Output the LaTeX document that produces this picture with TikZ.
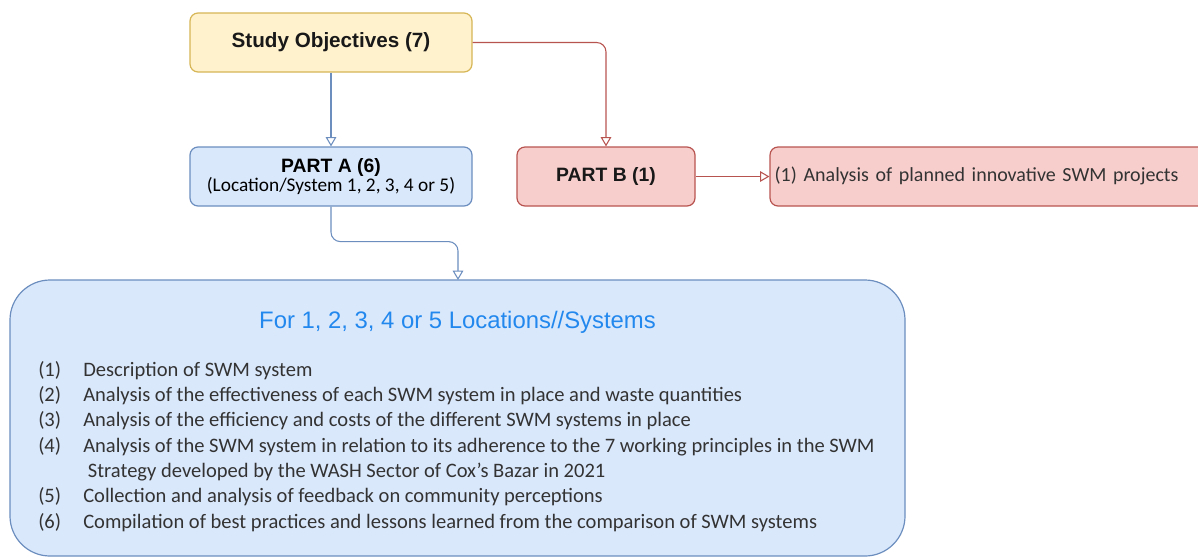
\documentclass[tikz,border=0pt]{standalone}
\usepackage{fontspec}
\setmainfont{Carlito}
\newfontfamily\arialfont{Liberation Sans}
\usetikzlibrary{arrows.meta}
\definecolor{yfill}{HTML}{FFF2CC}
\definecolor{ydraw}{HTML}{D6B656}
\definecolor{bfill}{HTML}{DAE8FC}
\definecolor{bdraw}{HTML}{6C8EBF}
\definecolor{rfill}{HTML}{F8CECC}
\definecolor{rdraw}{HTML}{B85450}
\definecolor{titleblue}{HTML}{2288EE}
\definecolor{bodytext}{HTML}{333333}
\tikzset{
  box/.style={rounded corners=6pt, line width=0.9pt, minimum height=44.25pt, inner sep=0pt, align=center},
  ybox/.style={box, fill=yfill, draw=ydraw},
  bbox/.style={box, fill=bfill, draw=bdraw},
  rbox/.style={box, fill=rfill, draw=rdraw},
  conn/.style={line width=0.8pt, rounded corners=7pt, -{Triangle[open, length=7pt, width=8pt]}},
  bconn/.style={conn, draw=bdraw},
  rconn/.style={conn, draw=rdraw},
  head/.style={font=\arialfont\bfseries\fontsize{14.5}{17}\selectfont, text=black!90},
}
\begin{document}
\begin{tikzpicture}[x=0.75pt,y=-0.75pt]
\useasboundingbox (0,0) rectangle (1198,558);
\node[ybox, minimum width=211.5pt, text=black!90, font=\arialfont\bfseries\fontsize{15.5}{18}\selectfont] (so) at (331,42.5) {Study Objectives (7)};
\node[bbox, minimum width=211.5pt] (pa) at (331,176.5) {{\arialfont\bfseries\fontsize{14.5}{17}\selectfont PART A (6)}\\[-1pt]{\fontsize{14.5}{17}\selectfont (Location/System 1, 2, 3, 4 or 5)}};
\node[rbox, minimum width=133.5pt, head] (pb) at (606,176.5) {PART B (1)};
\node[rbox, minimum width=330pt, text width=323pt, align=left, font=\fontsize{15}{18}\selectfont, text=bodytext] (rb) at (990,176.5) {\raisebox{3pt}{(1) Analysis of planned innovative SWM projects}};
\node[bbox, rounded corners=30pt, minimum width=671.25pt, minimum height=207pt] (big) at (457.5,418) {};
\node[font=\arialfont\fontsize{17.9}{21}\selectfont, text=titleblue, inner sep=0pt] (title) at (457.5,322) {For 1, 2, 3, 4 or 5 Locations//Systems};
\node[anchor=north west, inner sep=0pt, align=left, text=bodytext, font=\fontsize{15.4}{19}\selectfont] (list) at (38,361) {%
\makebox[33.75pt][l]{(1)}Description of SWM system\\
\makebox[33.75pt][l]{(2)}Analysis of the effectiveness of each SWM system in place and waste quantities\\
\makebox[33.75pt][l]{(3)}Analysis of the efficiency and costs of the different SWM systems in place\\
\makebox[33.75pt][l]{(4)}Analysis of the SWM system in relation to its adherence to the 7 working principles in the SWM\\
\makebox[33.75pt][l]{}\ Strategy developed by the WASH Sector of Cox’s Bazar in 2021\\
\makebox[33.75pt][l]{(5)}Collection and analysis of feedback on community perceptions\\
\makebox[33.75pt][l]{(6)}Compilation of best practices and lessons learned from the comparison of SWM systems};
\draw[bconn] (so.south) -- (pa.north);
\draw[rconn] (so.east) -| (pb.north);
\coordinate (bigtop) at (458,280);
\draw[bconn] (pa.south) -- ++(0,35) -| (bigtop);
\draw[rconn] (pb.east) -- (rb.west);
\end{tikzpicture}
\end{document}
